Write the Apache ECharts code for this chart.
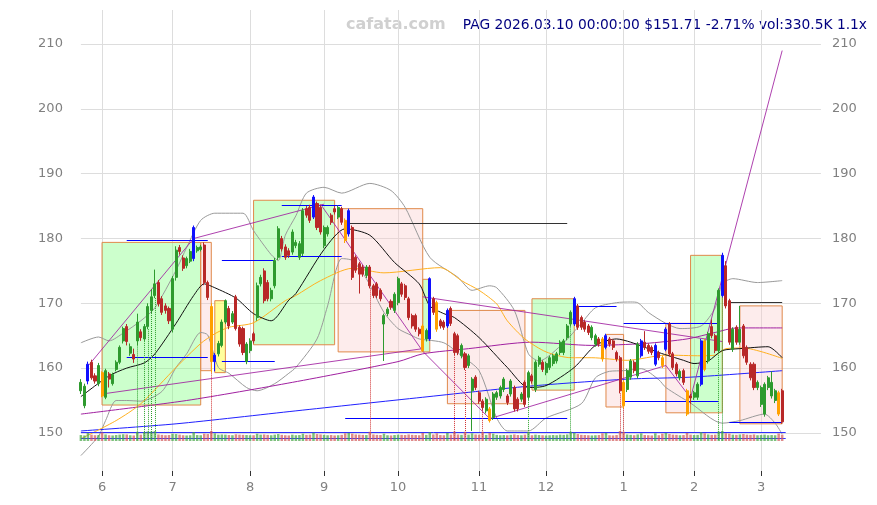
<!DOCTYPE html>
<html><head><meta charset="utf-8">
<script src="https://cdn.jsdelivr.net/npm/echarts@6/dist/echarts.min.js"></script>
<style>html,body{margin:0;padding:0;background:#fff}#c{width:877px;height:505px}</style>
</head><body><div id="c"></div>
<script>
// ---- categories (trading days) ----
const startDate = '2025-05-22', endDate = '2026-03-10';
const holidays = ['2025-05-26','2025-06-19','2025-07-04','2025-09-01','2025-11-27','2025-12-25','2026-01-01','2026-01-19','2026-02-16'];
const padCount = 11;
const dates = [];
(function(){ let d = new Date(startDate+'T00:00:00Z'); const e = new Date(endDate+'T00:00:00Z');
  while (d <= e) { const s = d.toISOString().slice(0,10); const wd = d.getUTCDay();
    if (wd !== 0 && wd !== 6 && holidays.indexOf(s) < 0) dates.push(s); d = new Date(d.getTime()+86400000); } })();
const cats = dates.concat(Array.from({length: padCount}, (_, k) => 'pad' + k));

// ---- candles [open, close, low, high] ----
const candles = [
[156.5,157.8,156.0,158.3],[154.2,157.2,153.8,157.6],[158.0,160.6,157.5,161.0],[160.9,158.5,158.2,161.3],[158.8,158.0,157.6,159.2],
[157.6,160.4,157.2,160.8],[159.3,155.7,155.5,159.5],[155.5,159.6,155.2,159.9],[159.1,158.3,157.0,159.4],[157.6,159.0,157.3,159.3],
[159.8,160.9,159.5,161.2],[160.9,163.2,160.6,163.5],[164.2,166.1,163.8,166.4],[166.4,164.1,163.5,166.8],[162.3,163.3,161.9,163.8],
[162.1,161.4,160.8,163.0],[164.2,167.1,163.5,168.4],[165.6,164.7,164.2,166.0],[164.5,166.4,164.2,166.8],[166.4,169.5,166.0,170.0],
[168.9,171.0,168.5,172.2],[171.2,173.0,170.8,175.2],[173.2,169.9,169.5,173.6],[170.7,168.6,168.2,171.1],[169.6,168.9,168.4,170.0],
[169.2,167.3,166.8,169.5],[166.0,173.8,165.5,174.2],[174.0,178.2,173.5,178.8],[178.6,178.0,177.5,179.0],[177.0,175.4,175.0,177.4],
[175.8,176.9,175.4,177.2],[176.5,178.0,176.2,178.4],[176.9,181.7,176.5,182.0],[178.1,178.6,177.8,178.9],[178.3,178.7,178.0,179.0],
[179.0,173.2,172.8,179.4],[173.2,170.9,170.5,173.5],[169.5,161.0,159.3,170.0],[161.0,162.0,159.5,162.3],[162.2,163.8,161.8,164.2],
[163.5,167.1,163.2,167.5],[167.1,170.4,166.8,170.6],[169.2,166.5,166.0,169.6],[167.1,168.4,166.8,168.8],[171.0,166.1,165.8,171.3],
[166.3,163.7,163.3,166.6],[166.1,162.4,162.0,166.4],[161.0,163.7,160.6,164.0],[162.7,164.2,162.3,164.6],[165.3,164.2,163.8,165.6],
[167.8,172.7,167.3,173.2],[173.0,174.0,172.6,174.4],[175.0,170.4,170.0,175.4],[173.2,170.7,170.3,173.6],[170.7,172.0,170.3,172.4],
[172.7,176.6,172.3,177.0],[177.1,181.5,176.7,181.9],[180.0,178.4,178.0,180.4],[178.7,177.1,176.7,179.1],[178.1,177.4,177.0,178.5],
[177.9,181.0,177.5,181.4],[178.9,179.4,178.5,179.8],[177.1,179.2,176.7,179.6],[177.7,184.3,177.3,184.7],[184.6,183.6,183.2,185.0],
[184.8,182.8,182.4,185.2],[183.3,186.4,183.0,186.7],[185.4,181.7,181.3,185.7],[184.8,181.0,180.6,185.1],[178.9,181.7,178.5,182.0],
[180.7,181.7,180.3,182.0],[183.6,182.5,182.1,183.9],[184.6,184.1,183.7,185.0],[183.3,184.8,183.0,185.1],[184.6,182.5,182.1,184.9],
[182.8,179.7,179.3,183.1],[180.7,184.3,180.3,184.6],[181.7,174.0,173.6,182.0],[177.1,175.1,174.7,177.4],[176.1,174.5,171.5,176.4],
[175.6,174.5,174.1,175.9],[174.3,175.6,173.9,175.9],[175.6,172.7,172.3,175.9],[172.7,171.2,170.8,173.0],[173.0,171.2,170.8,173.3],
[172.0,170.7,170.3,172.3],[166.8,168.1,161.1,168.4],[168.4,169.1,168.0,169.4],[170.3,169.4,169.0,170.6],[168.9,171.4,168.5,171.7],
[170.1,173.8,169.7,174.1],[173.0,171.4,171.0,173.3],[172.7,170.9,170.5,173.0],[170.7,167.8,167.4,171.0],[168.1,166.5,166.1,168.4],
[168.1,166.0,165.6,168.4],[166.0,165.3,164.9,166.3],[166.5,162.7,162.5,166.8],[164.5,165.8,164.1,166.1],[164.5,173.8,164.2,174.0],
[170.7,168.6,168.2,171.0],[170.1,166.0,165.6,170.4],[167.3,166.5,166.1,167.6],[167.1,166.3,165.9,167.4],[166.5,168.9,166.2,169.2],
[169.2,166.9,166.5,169.5],[165.3,162.4,162.0,165.6],[165.0,162.4,162.0,165.3],[161.9,163.5,161.5,163.8],[162.2,160.1,159.7,162.5],
[160.4,161.9,160.0,162.2],[156.5,158.3,150.3,158.6],[158.6,157.0,156.6,158.9],[156.2,154.9,154.5,156.5],[154.9,153.9,153.5,155.2],
[153.4,155.2,153.0,155.5],[153.7,151.9,151.6,154.0],[152.4,156.0,152.0,156.3],[155.5,156.2,155.1,156.5],[155.7,157.0,155.3,157.3],
[156.7,158.3,156.3,158.6],[155.7,154.7,154.3,156.0],[156.0,158.0,155.6,158.3],[157.0,153.7,153.3,157.3],[155.2,153.7,153.3,155.5],
[155.2,156.0,154.8,156.3],[157.8,154.4,154.0,158.1],[155.5,159.3,155.1,159.6],[158.8,158.0,157.6,159.1],[156.7,160.9,156.3,161.2],
[160.6,161.6,160.2,161.9],[160.9,159.8,159.4,161.2],[159.3,160.7,158.9,161.0],[160.1,161.6,159.7,161.9],[160.7,161.9,160.3,162.2],
[161.1,162.2,160.7,162.5],[162.4,164.0,162.0,164.3],[162.4,164.2,162.0,164.5],[164.7,166.5,164.3,166.8],[166.8,168.6,166.4,168.9],
[166.8,170.7,166.5,171.0],[169.6,166.3,165.9,169.9],[167.8,166.3,165.9,168.1],[167.1,166.0,165.6,167.4],[166.5,165.5,165.1,166.8],
[164.7,166.3,164.3,166.6],[163.7,165.0,163.3,165.3],[164.5,163.7,163.3,164.8],[164.5,161.4,161.0,164.8],[163.2,165.0,162.9,165.3],
[164.5,163.7,163.3,164.8],[164.2,163.2,162.8,164.5],[162.4,161.4,161.0,162.7],[161.6,156.5,156.1,161.9],[157.8,154.2,153.8,158.1],
[156.7,159.6,156.3,159.9],[158.6,161.1,158.2,161.4],[160.9,159.6,159.2,161.2],[158.8,163.7,158.4,164.0],[161.9,164.2,161.6,164.5],
[164.0,163.2,162.8,165.7],[163.5,162.6,162.2,163.8],[163.2,162.4,162.0,163.5],[160.6,163.5,160.3,163.8],[162.4,161.6,161.2,162.7],
[161.6,160.4,160.0,161.9],[162.9,166.0,162.6,166.3],[166.8,162.2,161.8,167.1],[162.2,160.1,159.7,162.5],[160.6,159.1,158.7,160.9],
[158.5,159.5,158.1,159.8],[159.6,157.8,157.4,159.9],[156.5,152.9,152.6,156.8],[155.7,155.4,154.5,156.0],[155.5,156.2,155.1,156.5],
[155.5,157.5,155.1,157.8],[157.5,164.2,157.2,164.5],[164.2,159.8,159.5,164.5],[161.1,165.3,160.7,165.6],[166.4,165.0,164.6,167.5],
[165.0,162.7,162.3,165.3],[162.7,172.0,162.3,172.3],[171.2,177.4,170.9,177.8],[175.8,169.6,169.2,176.5],[170.4,164.0,163.6,170.7],
[162.9,166.0,162.5,166.3],[166.3,164.0,163.6,166.6],[164.0,166.0,163.6,169.6],[166.5,161.9,161.5,166.8],[163.2,160.9,160.5,163.5],
[160.6,158.5,158.1,160.9],[160.6,157.0,156.6,160.9],[157.0,157.8,156.6,158.1],[154.4,157.0,154.0,157.3],[152.9,157.5,152.5,157.8],
[157.0,158.5,156.6,158.8],[155.7,157.8,155.3,159.5],[155.0,156.5,154.6,156.8],[156.2,152.9,152.6,156.5],[156.5,151.71,151.4,156.8]
];
const blueCandles = [2,32,38,66,76,99,104,140,149,159,163,166,176,182];
const orangeCandles = [6,37,75,97,101,116,148,154,165,172,177,198];

// ---- volume (thousands), read roughly from the strip ----
const volume = [
310,290,420,330,300,310,450,340,300,290, 310,330,350,340,300,290,480,330,470,500,
490,520,340,320,300,310,380,360,330,300, 290,300,460,310,300,380,360,520,400,330,
340,330,310,300,350,330,320,310,300,300, 380,330,340,320,300,330,360,320,300,290,
330,300,310,380,320,330,430,360,340,320, 300,310,290,300,320,400,420,380,340,330,
320,310,480,340,320,310,380,300,290,310, 330,320,310,340,320,310,300,420,320,460,
340,400,310,300,420,330,490,340,320,480, 330,400,340,330,480,320,420,380,320,300,
310,300,320,340,310,300,330,470,300,330, 310,300,290,300,310,300,330,320,340,480,
430,360,320,310,300,290,300,310,400,420, 300,290,310,520,480,340,320,300,340,400,
310,300,290,400,300,380,420,360,330,320, 300,310,420,330,310,320,460,400,340,320,
330,490,520,400,380,330,320,340,360,330, 320,340,300,310,330,300,310,300,390,330.5
];

// ---- indicator lines: [index, value] ----
const ma20 = [[0,155.6],[8,158.8],[13,160.0],[18,160.8],[21,162.2],[27,166.9],[32,171.2],[35,173.0],[38,172.4],[44,170.8],[49,168.4],[54,167.3],[59,170.5],[61,171.5],[69,178.3],[75,181.5],[82,180.5],[89,176.3],[96,173.0],[99,169.6],[103,168.4],[106,167.8],[113,164.7],[121,160.1],[127,157.0],[132,157.3],[140,160.1],[146,163.5],[152,164.5],[156,164.0],[164,162.4],[171,161.2],[174,160.7],[178,161.1],[182,162.7],[187,163.0],[195,163.3],[199,161.6]];
const ma50 = [[0,149.1],[10,151.9],[17,154.5],[27,160.1],[34,163.8],[38,165.3],[42,166.3],[49,167.0],[58,170.4],[61,171.2],[68,173.5],[77,175.4],[86,174.7],[102,175.5],[104,175.1],[108,173.5],[113,172.0],[118,169.9],[121,167.3],[126,164.5],[132,162.5],[139,161.6],[145,161.6],[155,161.2],[166,162.0],[176,161.9],[180,162.0],[183,163.0],[188,163.1],[199,161.5]];
const ma100 = [[0,152.9],[30,155.0],[60,157.8],[90,161.0],[97,162.2],[110,163.0],[128,164.0],[145,163.5],[160,163.8],[172,164.5],[180,165.5],[186,166.2],[199,166.2]];
const ma200 = [[0,150.3],[27,151.4],[61,153.4],[97,155.5],[127,157.2],[155,158.3],[173,158.6],[199,159.6]];
const bbUpper = [[0,163.9],[5,164.8],[8,164.2],[12,165.4],[17,167.3],[21,169.3],[27,175.1],[30,178.6],[34,182.8],[38,183.9],[46,183.9],[49,181.2],[54,177.5],[56,176.6],[58,180.5],[61,183.5],[64,187.0],[69,187.9],[74,187.0],[82,188.5],[88,187.4],[92,184.8],[99,177.1],[107,174.0],[111,172.0],[116,172.7],[118,172.4],[123,168.9],[127,162.2],[130,161.1],[137,163.9],[142,166.9],[146,169.3],[152,170.1],[156,170.2],[158,170.1],[161,168.6],[166,166.9],[170,166.1],[176,166.5],[180,169.3],[182,173.0],[185,173.8],[192,173.2],[199,173.5]];
const bbLower = [[0,146.5],[5,149.5],[7,151.9],[10,155.0],[13,155.0],[17,154.9],[23,156.4],[27,160.1],[30,162.2],[34,165.5],[36,165.1],[39,160.1],[42,159.2],[47,157.0],[50,156.5],[55,157.6],[59,159.2],[61,160.1],[67,164.5],[70,169.6],[74,176.9],[77,176.6],[81,173.8],[86,168.6],[90,166.1],[94,165.0],[96,164.5],[103,163.9],[108,161.9],[113,159.6],[118,152.3],[121,150.3],[127,150.3],[132,152.3],[142,154.5],[146,158.5],[150,159.5],[154,159.6],[159,159.9],[164,158.2],[166,157.0],[173,154.6],[182,151.5],[187,151.9],[194,152.9],[197,151.5],[199,149.8]];

// ---- trend lines (purple) ----
const trendLines = [
  [[2,160.3],[32,180.0]], [[32,180.0],[69,185.3]], [[68,185.3],[97,162.6]], [[97,162.6],[116,152.2]],
  [[116,152.2],[166,160.4]], [[166,160.4],[173,155.4]], [[173,155.4],[199,209.0]],
  [[97,171.0],[182,164.1]], [[6,156.0],[97,163.0]]
];
// ---- horizontal levels: [fromIndex, toIndex, value, colour] ----
const levels = [
  [13,36,179.7,'#0000ff'],[13,36,161.6,'#0000ff'],[40,55,176.6,'#0000ff'],[40,55,161.1,'#0000ff'],
  [57,74,185.1,'#0000ff'],[57,74,177.2,'#0000ff'],[75,138,182.3,'#333333'],[75,138,152.2,'#0000ff'],
  [140,152,169.6,'#0000ff'],[154,181,166.9,'#0000ff'],[154,181,154.9,'#0000ff'],[184,199,170.1,'#333333'],[184,199,151.7,'#0000ff'],
  [0,200,150.15,'#3030ff'],[0,200,149.25,'#3030ff']
];
// ---- boxes: [fromIndex, toIndex, top, bottom, kind] ----
const boxes = [
  [6,34,179.4,154.3,'g'],[34,37,179.4,159.6,'p'],[38,41,170.4,159.3,'y'],[49,72,185.9,163.6,'g'],
  [73,97,184.6,162.5,'p'],[97,99,173.7,162.5,'g'],[104,126,168.9,154.5,'p'],[128,140,170.7,156.6,'g'],
  [149,154,165.2,154.0,'p'],[166,173,166.9,153.1,'p'],[173,182,177.4,153.1,'g'],[187,199,169.6,151.4,'p']
];
// ---- signal markers (dotted verticals) ----
const greenSignals = [16,18,19,20,21,127,139,181,182];
const redSignals = [37,82,106,109,114,153,154];

const UP = '#2e9a2e', DOWN = '#b82828';
const monthStarts = new Set();
for (let i = 1; i < dates.length; i++) if (dates[i].slice(5,7) !== dates[i-1].slice(5,7)) monthStarts.add(i);
const isMonth = (idx) => monthStarts.has(idx);

const candleData = candles.map((c, i) => {
  if (blueCandles.includes(i)) return {value: c, itemStyle: {color:'#1010ff', color0:'#1010ff', borderColor:'#1010ff', borderColor0:'#1010ff'}};
  if (orangeCandles.includes(i)) return {value: c, itemStyle: {color:'#ffa000', color0:'#ffa000', borderColor:'#ffa000', borderColor0:'#ffa000'}};
  return c;
});
const volData = volume.map((v, i) => ({value: v, itemStyle: {color: candles[i][1] >= candles[i][0] ? 'rgba(70,165,70,0.7)' : 'rgba(210,90,90,0.7)'}}));
const boxFill = {g:'rgba(120,255,120,0.38)', p:'rgba(250,200,200,0.35)', y:'rgba(255,255,90,0.6)'};
const areaData = boxes.map(b => [{coord:[b[0], b[2]], itemStyle:{color: boxFill[b[4]], borderColor:'#e0894a', borderWidth:1}}, {coord:[b[1], b[3]]}]);
const lineMarks = [];
levels.forEach(l => lineMarks.push([{coord:[l[0], l[2]], lineStyle:{color:l[3], width:1, type:'solid'}}, {coord:[l[1], l[2]]}]));
trendLines.forEach(t => lineMarks.push([{coord:t[0], lineStyle:{color:'#a020a0', width:1, type:'solid', opacity:0.85}}, {coord:t[1]}]));
greenSignals.forEach(i => lineMarks.push([{coord:[i, candles[i][2]], lineStyle:{color:'#2ca02c', width:1, type:'dotted'}}, {coord:[i, 148.8]}]));
redSignals.forEach(i => lineMarks.push([{coord:[i, candles[i][2]], lineStyle:{color:'#d03030', width:1, type:'dotted'}}, {coord:[i, 148.8]}]));

function lineSeries(data, color, width, z) {
  return {type:'line', data: data, symbol:'none', smooth:0.25, lineStyle:{color: color, width: width}, z: z, silent:true, animation:false};
}
const chart = echarts.init(document.getElementById('c'), null, {renderer:'canvas'});
chart.setOption({
  animation: false,
  backgroundColor: '#ffffff',
  grid: [{left: 80.9, right: 56.06, top: 10, bottom: 34}, {left: 80.9, right: 56.06, top: 431, bottom: 64}],
  xAxis: [{type:'category', data: cats, boundaryGap:false, gridIndex:0,
    axisLine:{show:false},
    axisTick:{show:true, interval:isMonth, length:5, lineStyle:{color:'#333'}},
    axisLabel:{interval:isMonth, formatter:(v)=> String(parseInt(v.slice(5,7),10)), color:'#808080', fontSize:13, margin:10, fontFamily:'DejaVu Sans'},
    splitLine:{show:true, interval:isMonth, lineStyle:{color:'#dddddd', width:1}}},
    {type:'category', data: cats, boundaryGap:false, gridIndex:1, show:false}],
  yAxis: [
    {type:'value', min:144.12, max:215.26, minInterval:10, maxInterval:10, position:'left', axisLine:{show:false}, axisTick:{show:false},
     axisLabel:{color:'#808080', fontSize:13, margin:18, showMinLabel:false, showMaxLabel:false, fontFamily:'DejaVu Sans'},
     splitLine:{show:true, showMinLine:false, showMaxLine:false, lineStyle:{color:'#dddddd'}}},
    {type:'value', min:144.12, max:215.26, minInterval:10, maxInterval:10, position:'right', axisLine:{show:false}, axisTick:{show:false},
     axisLabel:{color:'#808080', fontSize:13, margin:11, showMinLabel:false, showMaxLabel:false, fontFamily:'DejaVu Sans'},
     splitLine:{show:false}},
    {type:'value', gridIndex:1, min:0, max:520, show:false}
  ],
  graphic: [
    {type:'text', left:346, top:17, style:{text:'cafata.com', fill:'#d0d0d0', font:'bold 16px "DejaVu Sans"'}},
    {type:'text', right:10, top:18, style:{text:'PAG 2026.03.10 00:00:00 $151.71 -2.71% vol:330.5K 1.1x', fill:'#000080', font:'13.8px "DejaVu Sans"'}}
  ],
  series: [
    {type:'line', data:[], z:1, silent:true, markArea:{silent:true, data: areaData}},
    lineSeries(bbUpper, '#999999', 1, 2),
    lineSeries(bbLower, '#999999', 1, 2),
    lineSeries(ma200, '#2020ff', 1, 3),
    lineSeries(ma100, '#a020a0', 1, 3),
    lineSeries(ma50, '#ffb020', 1, 3),
    lineSeries(ma20, '#111111', 1, 3),
    {type:'line', data:[], z:4, silent:true, markLine:{silent:true, symbol:['none','none'], label:{show:false}, animation:false, data: lineMarks}},
    {type:'bar', xAxisIndex:1, yAxisIndex:2, data: volData, barWidth:'72%', z:6, silent:true},
    {type:'candlestick', data: candleData, z:5, clip:false, barWidth:'72%',
      itemStyle:{color:UP, color0:DOWN, borderColor:UP, borderColor0:DOWN, borderWidth:1}}
  ]
});
</script></body></html>
